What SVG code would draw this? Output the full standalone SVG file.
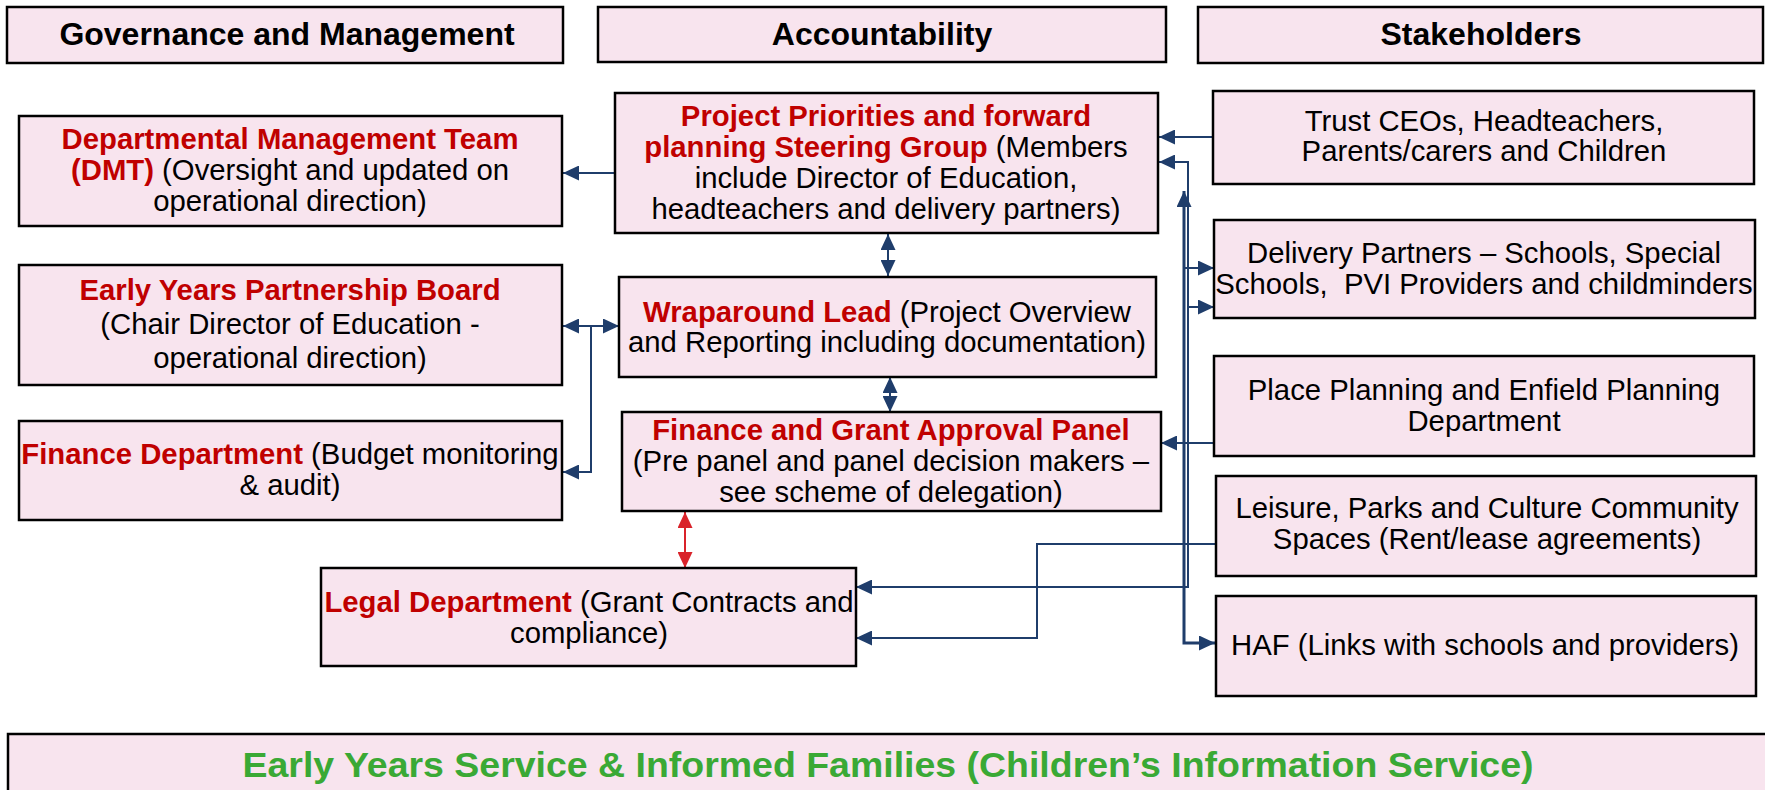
<svg xmlns="http://www.w3.org/2000/svg" width="1765" height="790" viewBox="0 0 1765 790">
<style>
.box{fill:#F8E4EE;stroke:#000;stroke-width:2.5}
.hdr{font-family:"Liberation Sans",Arial,sans-serif;font-weight:bold;font-size:32px;fill:#000;text-anchor:middle}
.t{font-family:"Liberation Sans",Arial,sans-serif;font-size:29.3px;fill:#000;text-anchor:middle}
.r{font-weight:bold;fill:#C00000}
.ban{font-family:"Liberation Sans",Arial,sans-serif;font-weight:bold;font-size:35px;fill:#3AA935;text-anchor:middle}
.c{fill:none;stroke:#1F3D6B;stroke-width:2}
.ca{marker-end:url(#ah)}
.cb{marker-start:url(#ah);marker-end:url(#ah)}
.red{fill:none;stroke:#D9232A;stroke-width:2;marker-start:url(#ahr);marker-end:url(#ahr)}
</style>
<defs>
<marker id="ah" markerUnits="userSpaceOnUse" markerWidth="17" markerHeight="15" refX="16" refY="7.5" orient="auto-start-reverse"><path d="M0,0 L16,7.5 L0,15 z" fill="#1F3D6B"/></marker>
<marker id="ahr" markerUnits="userSpaceOnUse" markerWidth="17" markerHeight="15" refX="16" refY="7.5" orient="auto-start-reverse"><path d="M0,0 L16,7.5 L0,15 z" fill="#D9232A"/></marker>
</defs>
<rect width="1765" height="790" fill="#fff"/>

<g id="hdr-governance"><rect class="box" x="7" y="7" width="556" height="56"/><text class="hdr" x="287" y="45">Governance and Management</text></g>
<g id="hdr-accountability"><rect class="box" x="598" y="7" width="568" height="55"/><text class="hdr" x="882" y="45">Accountability</text></g>
<g id="hdr-stakeholders"><rect class="box" x="1198" y="7" width="565" height="56"/><text class="hdr" x="1481" y="45">Stakeholders</text></g>

<g id="connectors">
<path class="c ca" d="M615 173 H563"/>
<path class="c cb" d="M888 234 V276"/>
<path class="c cb" d="M890 377 V412"/>
<path class="red" d="M685 512 V568"/>
<path class="c cb" d="M563 326 H619"/>
<path class="c ca" d="M591 326 V472 H563"/>
<path class="c ca" d="M1213 137 H1159"/>
<path class="c cb" style="stroke-width:3" d="M1184 191 V643 H1215"/>
<path class="c cb" d="M1159 162 H1188 V587 H856"/>
<path class="c ca" d="M1184 268 H1214"/>
<path class="c ca" d="M1188 307 H1214"/>
<path class="c ca" d="M1213 443 H1161"/>
<path class="c ca" d="M1216 544 H1037 V638 H856"/>
</g>

<g id="dmt"><rect class="box" x="19" y="116" width="543" height="110"/>
<text class="t" x="290" y="149"><tspan class="r">Departmental Management Team</tspan></text>
<text class="t" x="290" y="180"><tspan class="r">(DMT)</tspan> (Oversight and updated on</text>
<text class="t" x="290" y="211">operational direction)</text></g>

<g id="eypb"><rect class="box" x="19" y="265" width="543" height="120"/>
<text class="t" x="290" y="300"><tspan class="r">Early Years Partnership Board</tspan></text>
<text class="t" x="290" y="334">(Chair Director of Education -</text>
<text class="t" x="290" y="368">operational direction)</text></g>

<g id="finance-dept"><rect class="box" x="19" y="421" width="543" height="99"/>
<text class="t" x="290" y="464"><tspan class="r">Finance Department</tspan> (Budget monitoring</text>
<text class="t" x="290" y="495">&amp; audit)</text></g>

<g id="project"><rect class="box" x="615" y="93" width="543" height="140"/>
<text class="t" x="886" y="126"><tspan class="r">Project Priorities and forward</tspan></text>
<text class="t" x="886" y="157"><tspan class="r">planning Steering Group</tspan> (Members</text>
<text class="t" x="886" y="188">include Director of Education,</text>
<text class="t" x="886" y="219">headteachers and delivery partners)</text></g>

<g id="wraparound"><rect class="box" x="619" y="277" width="537" height="100"/>
<text class="t" x="887" y="322"><tspan class="r">Wraparound Lead</tspan> (Project Overview</text>
<text class="t" x="887" y="352">and Reporting including documentation)</text></g>

<g id="fgap"><rect class="box" x="622" y="412" width="539" height="99"/>
<text class="t" x="891" y="440"><tspan class="r">Finance and Grant Approval Panel</tspan></text>
<text class="t" x="891" y="471">(Pre panel and panel decision makers –</text>
<text class="t" x="891" y="502">see scheme of delegation)</text></g>

<g id="legal"><rect class="box" x="321" y="568" width="535" height="98"/>
<text class="t" x="589" y="612"><tspan class="r">Legal Department</tspan> (Grant Contracts and</text>
<text class="t" x="589" y="643">compliance)</text></g>

<g id="trust"><rect class="box" x="1213" y="91" width="541" height="93"/>
<text class="t" x="1484" y="131">Trust CEOs, Headteachers,</text>
<text class="t" x="1484" y="161">Parents/carers and Children</text></g>

<g id="delivery"><rect class="box" x="1214" y="220" width="541" height="98"/>
<text class="t" x="1484" y="263">Delivery Partners – Schools, Special</text>
<text class="t" x="1484" y="294" xml:space="preserve">Schools,  PVI Providers and childminders</text></g>

<g id="place"><rect class="box" x="1214" y="356" width="540" height="100"/>
<text class="t" x="1484" y="400">Place Planning and Enfield Planning</text>
<text class="t" x="1484" y="431">Department</text></g>

<g id="leisure"><rect class="box" x="1216" y="476" width="540" height="100"/>
<text class="t" x="1487" y="518">Leisure, Parks and Culture Community</text>
<text class="t" x="1487" y="549">Spaces (Rent/lease agreements)</text></g>

<g id="haf"><rect class="box" x="1216" y="596" width="540" height="100"/>
<text class="t" x="1485" y="655">HAF (Links with schools and providers)</text></g>

<g id="banner"><rect class="box" x="8" y="734" width="1770" height="70"/>
<text class="ban" x="888" y="777" textLength="1291" lengthAdjust="spacingAndGlyphs">Early Years Service &amp; Informed Families (Children’s Information Service)</text></g>
</svg>
